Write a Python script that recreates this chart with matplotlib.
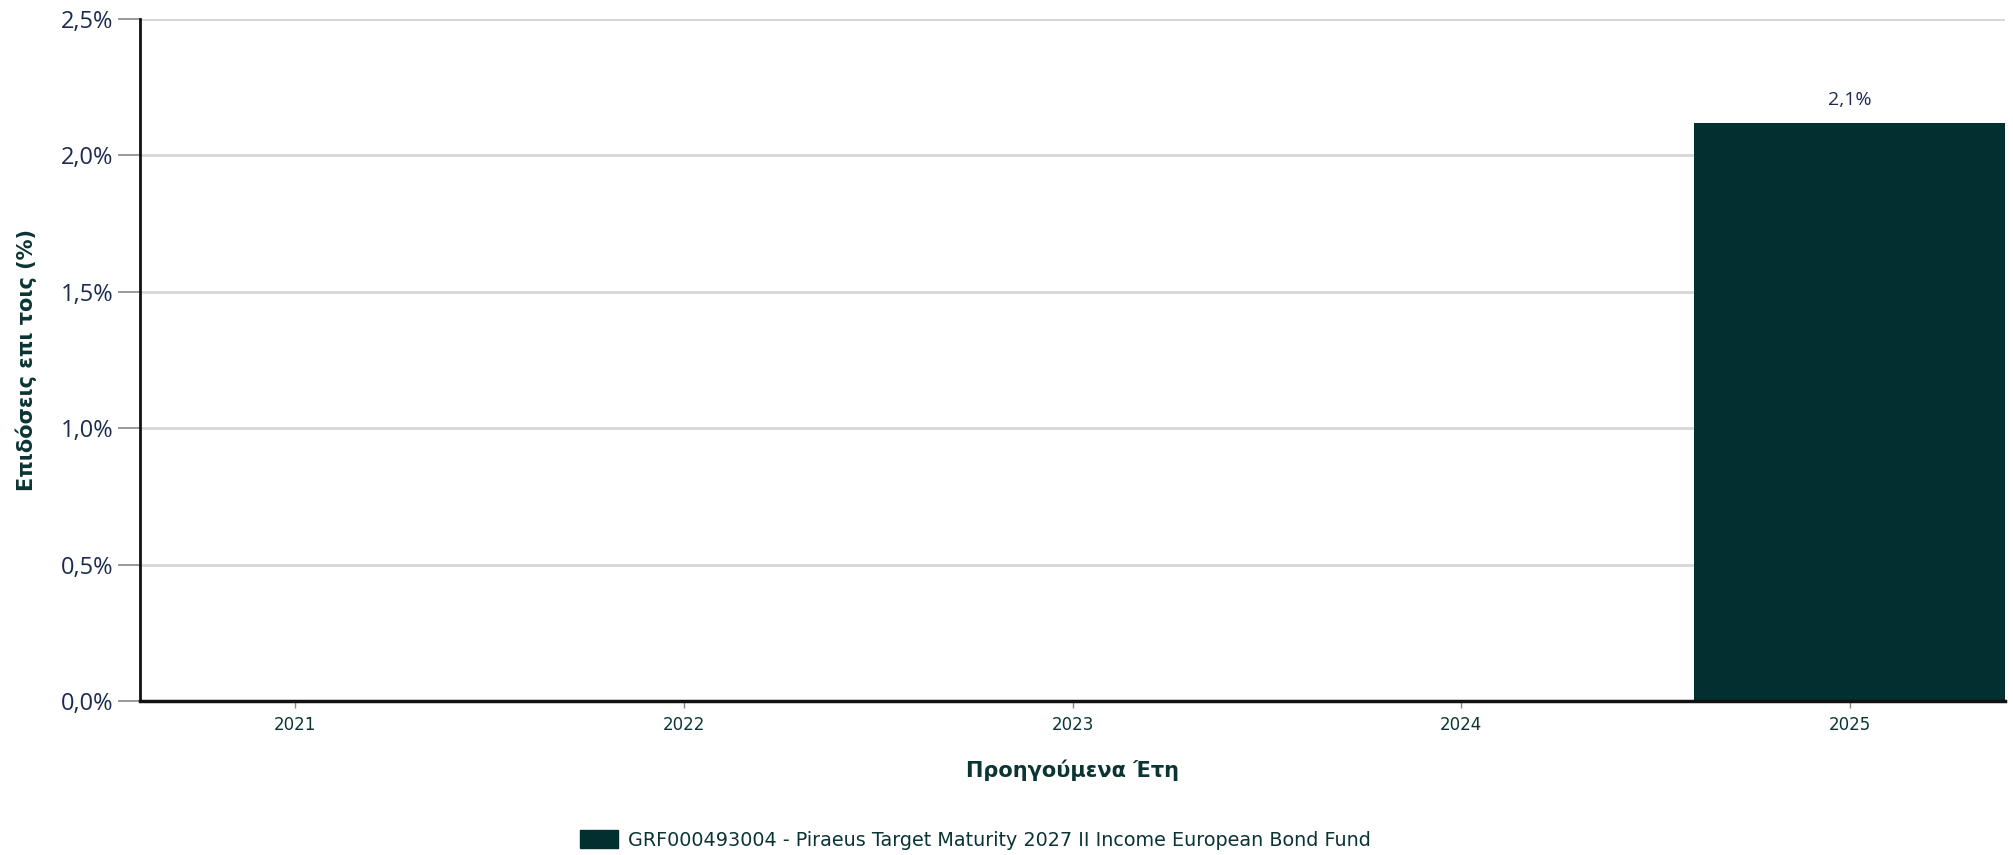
import matplotlib.pyplot as plt
from matplotlib.patches import Patch

# Δεδομένα
years = ['2021', '2022', '2023', '2024', '2025']
returns = [None, None, None, None, 2.12]
fund_name = 'GRF000493004 - Piraeus Target Maturity 2027 II Income European Bond Fund'

bar_color = '#022f30'
dark_green = '#0b3535'
navy = '#1c2b50'

fig = plt.figure(figsize=(20.13, 8.55), dpi=100)
ax = fig.add_axes([140 / 2013, 1 - 701 / 855, 1865 / 2013, 682 / 855])

xs = [i for i, v in enumerate(returns) if v is not None]
vals = [v for v in returns if v is not None]
ax.bar(xs, vals, width=0.8, color=bar_color, zorder=3)
for x, v in zip(xs, vals):
    ax.text(x, v + 0.05, f'{v:.1f}%'.replace('.', ','), ha='center', va='bottom',
            fontsize=14, color=navy, family='Open Sans')

ax.set_xlim(-0.4, 4.4)
ax.set_ylim(0, 2.5)
ax.set_xticks(range(len(years)))
ax.set_xticklabels(years, fontsize=12, color=dark_green, family='DejaVu Sans')
yt = [0, 0.5, 1.0, 1.5, 2.0, 2.5]
ax.set_yticks(yt)
ax.set_yticklabels([f'{t:.1f}%'.replace('.', ',') for t in yt], fontsize=17,
                   color=navy, family='Open Sans')
ax.tick_params(axis='y', length=16, width=1.2, color='#888888', pad=3)
ax.tick_params(axis='x', length=5, width=1, color='#888888', pad=6)

ax.grid(axis='y', color='#d6d6d6', linewidth=2, zorder=0)
for s in ['top', 'right']:
    ax.spines[s].set_visible(False)
ax.spines['left'].set_linewidth(2)
ax.spines['left'].set_color('#111111')
ax.spines['bottom'].set_linewidth(2.5)
ax.spines['bottom'].set_color('#111111')
ax.spines['left'].set_zorder(4)
ax.spines['bottom'].set_zorder(4)

ax.set_xlabel('Προηγούμενα Έτη', fontsize=15, fontweight='bold', color=dark_green,
              labelpad=18)
ax.set_ylabel('Επιδόσεις επι τοις (%)', fontsize=15, fontweight='bold', color=dark_green,
              labelpad=17)

fig.legend(handles=[Patch(color=bar_color)], labels=[fund_name], loc='center',
           bbox_to_anchor=(975 / 2013, 1 - 840 / 855), frameon=False, fontsize=13.8,
           labelcolor=dark_green, handlelength=2.0, handleheight=1.0, handletextpad=0.5)

fig.savefig('out.png', dpi=100)
